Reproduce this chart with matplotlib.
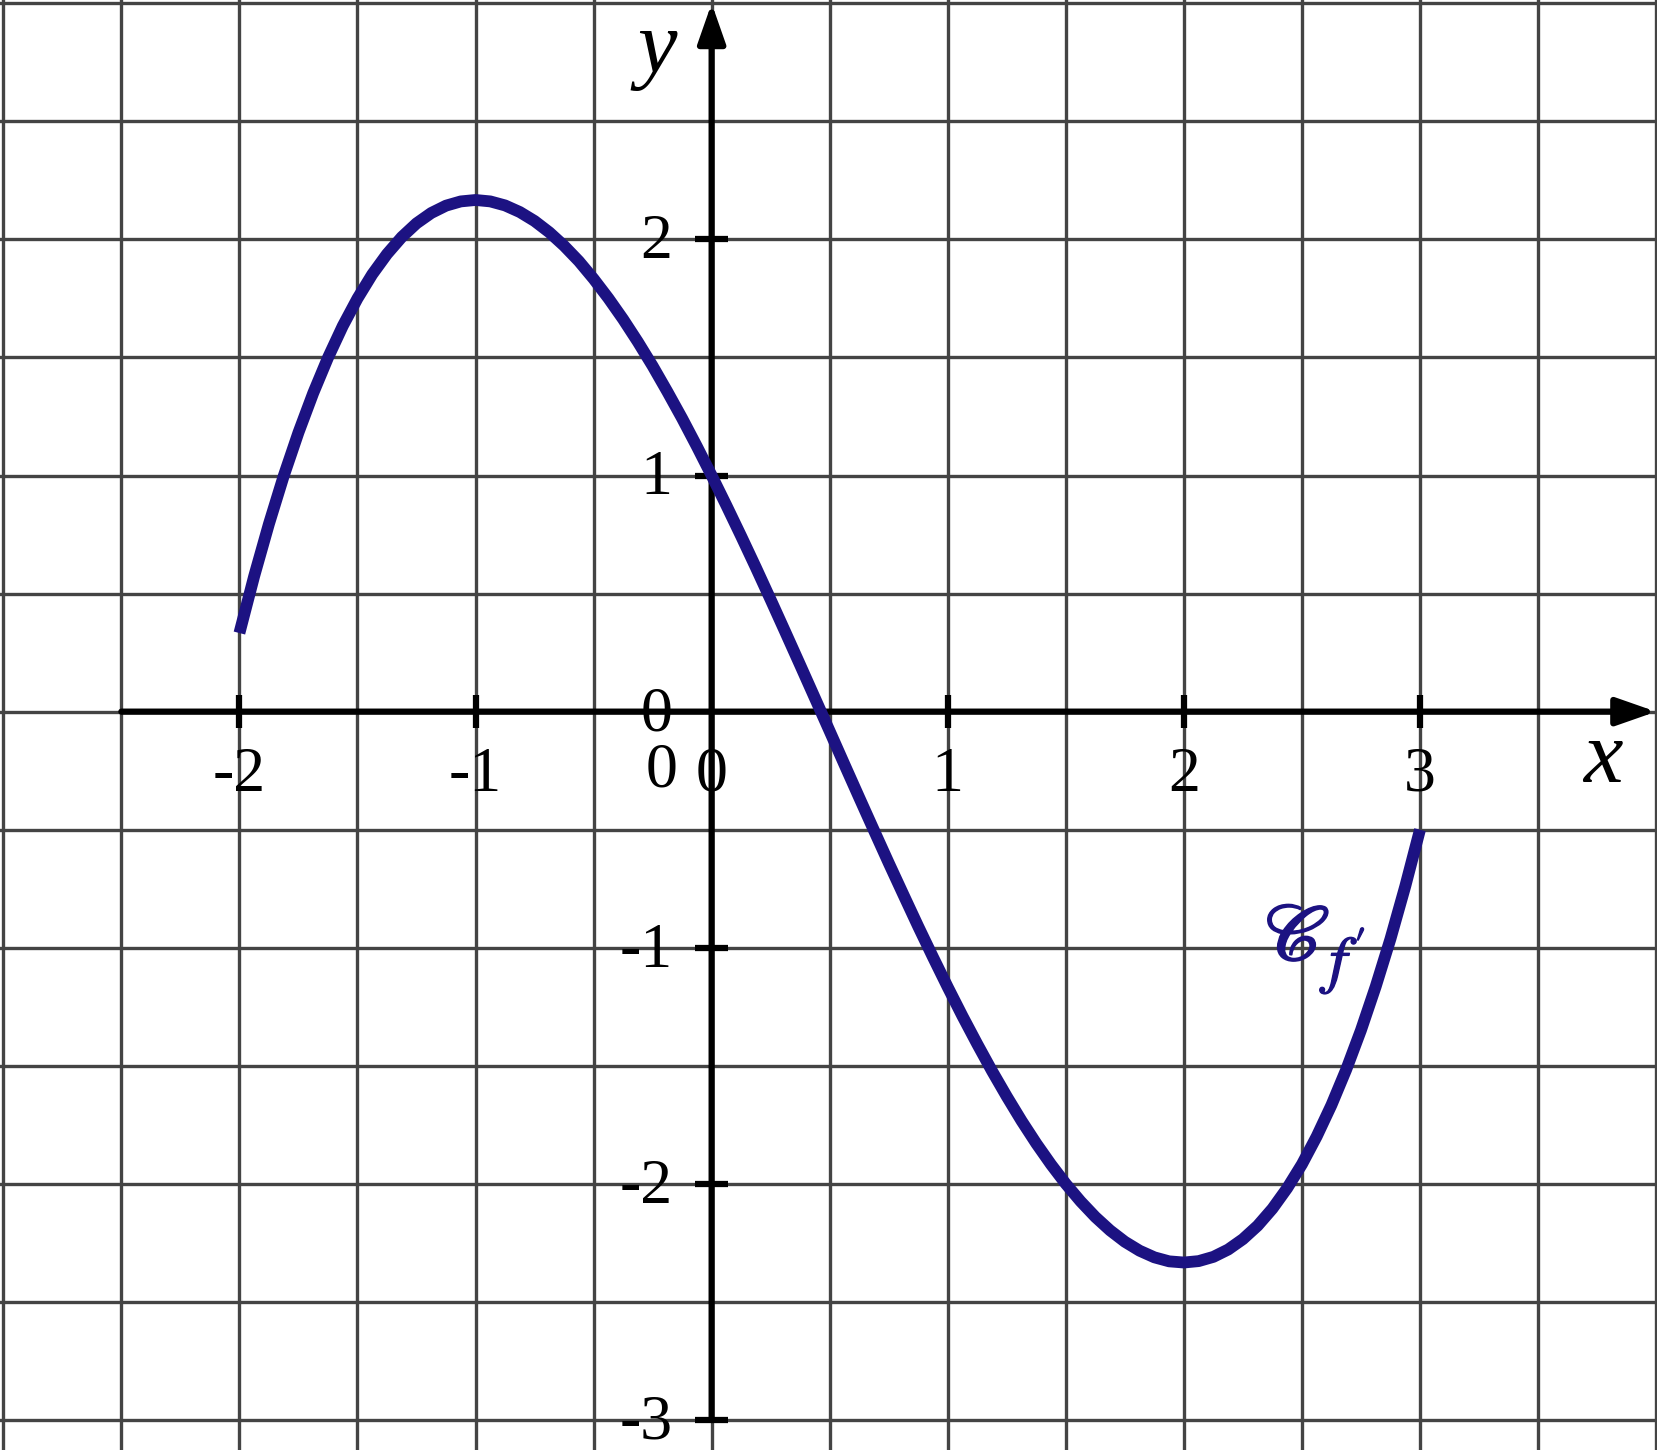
import matplotlib
matplotlib.use("Agg")
import matplotlib.pyplot as plt
import matplotlib.patheffects as pe

x_pts = [-2 + 0.0625 * i for i in range(81)]
y_pts = [0.333, 0.574, 0.795, 0.998, 1.182, 1.349, 1.499, 1.633,
         1.750, 1.852, 1.938, 2.010, 2.068, 2.112, 2.143, 2.161,
         2.167, 2.161, 2.144, 2.116, 2.078, 2.030, 1.973, 1.908,
         1.833, 1.751, 1.662, 1.566, 1.464, 1.355, 1.242, 1.123,
         1.000, 0.873, 0.743, 0.610, 0.474, 0.336, 0.197, 0.057,
         -0.083, -0.224, -0.364, -0.503, -0.641, -0.776, -0.910, -1.040,
         -1.167, -1.290, -1.408, -1.522, -1.630, -1.733, -1.829, -1.918,
         -2.000, -2.074, -2.140, -2.197, -2.245, -2.283, -2.311, -2.328,
         -2.333, -2.327, -2.309, -2.278, -2.234, -2.177, -2.105, -2.018,
         -1.917, -1.799, -1.666, -1.516, -1.349, -1.164, -0.962, -0.740,
         -0.500]

xtick_labels = [-2, -1, 0, 1, 2, 3]
ytick_labels = [2, 1, 0, -1, -2, -3]
xtick_marks = [-2, -1, 1, 2, 3]
ytick_marks = [2, 1, -1, -2, -3]
grid_x = [-3 + 0.5 * i for i in range(15)]
grid_y = [-3 + 0.5 * i for i in range(13)]

curve_color = "#1c1282"
serif = "Liberation Serif"
plt.rcParams["mathtext.fontset"] = "stix"

fig = plt.figure(figsize=(16.58, 14.5), dpi=100)
ax = fig.add_axes([0, 0, 1, 1])
ax.set_xlim(-3.014, 4.008)
ax.set_ylim(-3.127, 3.014)
for s in ax.spines.values():
    s.set_visible(False)

# rooster
ax.set_xticks(grid_x)
ax.set_yticks(grid_y)
ax.tick_params(length=0, labelbottom=False, labelleft=False)
ax.grid(True, color="#444444", linewidth=2.4)
ax.set_axisbelow(True)

# assen met pijlen
arrow = dict(arrowstyle="-|>,head_length=1.2,head_width=0.42", lw=4.5,
             color="black", shrinkA=0, shrinkB=0, mutation_scale=20)
ax.annotate("", xy=(4.0, 0), xytext=(-2.5, 0), arrowprops=arrow, zorder=3)
ax.annotate("", xy=(0, 3.0), xytext=(0, -3.0), arrowprops=arrow, zorder=3)
ax.vlines(xtick_marks, -0.07, 0.07, color="black", lw=4.5, zorder=3)
ax.hlines(ytick_marks, -0.07, 0.07, color="black", lw=4.5, zorder=3)

# kromme
ax.plot(x_pts, y_pts, color=curve_color, lw=8.5, solid_capstyle="butt",
        solid_joinstyle="round", zorder=4)

# labels
for v in xtick_labels:
    ax.text(v, -0.336, str(v), ha="center", va="baseline", fontsize=46,
            family=serif, zorder=5)
for v in ytick_labels:
    ax.text(-0.166, v - 0.08, str(v), ha="right", va="baseline", fontsize=46,
            family=serif, zorder=5)
ax.text(-0.143, -0.319, "0", ha="right", va="baseline", fontsize=46,
        family=serif, zorder=5)

ax.text(3.775, -0.298, "x", ha="center", va="baseline", fontsize=64,
        family=serif, style="italic")
ax.text(-0.232, 2.709, "y", ha="center", va="baseline", fontsize=64,
        family=serif, style="italic")
ax.text(2.343, -1.052, r"$\mathscr{C}$", ha="left", va="baseline",
        fontsize=58, color=curve_color,
        path_effects=[pe.withStroke(linewidth=1.2, foreground=curve_color)])
ax.text(2.615, -1.14, r"$f'$", ha="left", va="baseline",
        fontsize=46, color=curve_color,
        path_effects=[pe.withStroke(linewidth=1.0, foreground=curve_color)])

fig.savefig("out.png", dpi=100)
